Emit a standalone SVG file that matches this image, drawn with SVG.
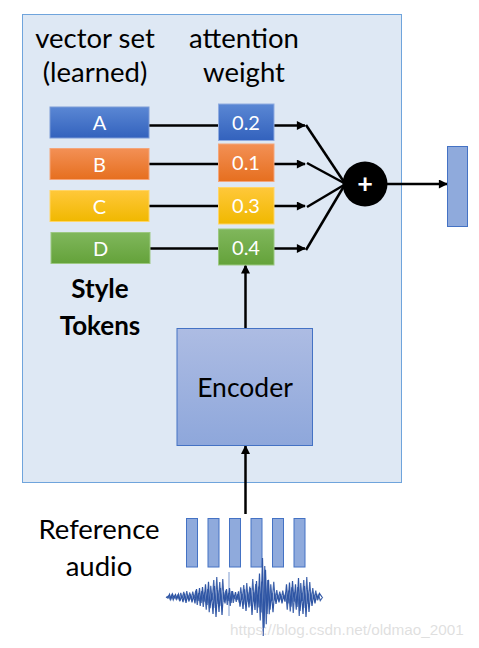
<svg xmlns="http://www.w3.org/2000/svg" width="479" height="648" viewBox="0 0 479 648">
<style>
.t{font-family:Lato,"Liberation Sans",sans-serif;fill:#000;text-anchor:middle}
.big{font-size:27.5px}
.bold{font-size:26px;font-weight:bold}
.w{font-family:Lato,"Liberation Sans",sans-serif;fill:#fff;font-size:20px;text-anchor:middle}
.ln{stroke:#000;stroke-width:2.5;fill:none}
.ar{stroke:#000;stroke-width:2.5;fill:none;marker-end:url(#ah)}
.bar{fill:#8faadc;stroke:#4472c4;stroke-width:1}
</style>
<defs>
<marker id="ah" viewBox="0 0 10 10" refX="9" refY="5" markerWidth="4" markerHeight="3.6" orient="auto" markerUnits="strokeWidth"><path d="M0,0 L10,5 L0,10 z" fill="#000"/></marker>
<linearGradient id="gA" x1="0" y1="0" x2="0" y2="1"><stop offset="0" stop-color="#5a87d4"/><stop offset="1" stop-color="#3362bd"/></linearGradient>
<linearGradient id="gB" x1="0" y1="0" x2="0" y2="1"><stop offset="0" stop-color="#f39055"/><stop offset="1" stop-color="#e66f1f"/></linearGradient>
<linearGradient id="gC" x1="0" y1="0" x2="0" y2="1"><stop offset="0" stop-color="#ffc83a"/><stop offset="1" stop-color="#f0b800"/></linearGradient>
<linearGradient id="gD" x1="0" y1="0" x2="0" y2="1"><stop offset="0" stop-color="#80b75c"/><stop offset="1" stop-color="#64a23a"/></linearGradient>
<linearGradient id="gE" x1="0" y1="0" x2="0" y2="1"><stop offset="0" stop-color="#adbce3"/><stop offset="1" stop-color="#8ea7db"/></linearGradient>
<polyline id="wave" fill="none" stroke="#2f55a4" stroke-width="1.2" points="166,597 168,598.2 169.5,594.3 171,598.8 172.5,594 174,597.9 175.5,594.6 177,598.5 178.5,594.2 180,601.2 181.5,595.8 183,602.1 184.5,593.7 186,603 187.5,594.9 189,601.5 190.5,594.3 192,602.4 193.5,595.5 195,603.5 196.5,589 198,601 199.5,588 201,603 202.5,587 204,601.8 205.5,584.2 207,605 208.5,581.8 210,608.2 211.5,593.8 213,614 214.5,586 216,617 217.5,590 219,612 220.5,588 222,615 223.5,592 225,603.5 226.5,589 228,601 229.5,588 231,603 232.5,591 234,598.8 235.5,592.2 237,600 238.5,591.3 240,606.8 241.5,594.2 243,608.9 244.5,589.3 246,611 247.5,592.1 249,607.5 250.5,588 252,615 253.5,592 255,610 256.5,581 258,607.4 259.5,573.6 261,612.6 262.5,558 264,628 265.5,569.8 267,614 268.5,579.9 270,609.6 271.5,593.4 273,612.3 274.5,593.2 276,604 277.5,594.6 279,602.3 280.5,593.9 282,603.3 283.5,595.3 285,601.6 286.5,584.2 288,603.4 289.5,582.6 291,606.6 292.5,581 294,601.8 295.5,584.2 297,607 298.5,578 300,611 301.5,593 303,614 304.5,586 306,617 307.5,590 309,612 310.5,592.5 312,606 313.5,594.5 315,603.5 316.5,593.8 318,598.6 319.5,593.4 322,597"/>
</defs>
<rect id="panel" x="22.5" y="14.5" width="379" height="468" fill="#dee8f4" stroke="#6fa4dc" stroke-width="1"/>
<g id="labels">
<text class="t big" x="95" y="48">vector set</text>
<text class="t big" x="95" y="82">(learned)</text>
<text class="t big" x="244" y="48">attention</text>
<text class="t big" x="244" y="82">weight</text>
<text class="t bold" x="100" y="298">Style</text>
<text class="t bold" x="100" y="335">Tokens</text>
<text class="t big" x="99" y="539">Reference</text>
<text class="t big" x="99" y="576">audio</text>
</g>
<g id="connectors">
<line class="ln" x1="149" y1="125.5" x2="218" y2="125.5"/>
<line class="ln" x1="149" y1="164" x2="218" y2="164"/>
<line class="ln" x1="149" y1="206" x2="218" y2="206"/>
<line class="ln" x1="150" y1="248.5" x2="218" y2="248.5"/>
<line class="ar" x1="274" y1="125.5" x2="305" y2="125.5"/>
<line class="ar" x1="274" y1="164" x2="305" y2="164"/>
<line class="ar" x1="274" y1="206" x2="305" y2="206"/>
<line class="ar" x1="274" y1="248.5" x2="305" y2="248.5"/>
<line class="ln" x1="306" y1="125" x2="344" y2="182"/>
<line class="ln" x1="307" y1="163" x2="344" y2="183"/>
<line class="ln" x1="307" y1="207" x2="344" y2="185"/>
<line class="ln" x1="306" y1="250" x2="344" y2="186"/>
<line class="ar" x1="387" y1="184" x2="447" y2="184"/>
<line class="ar" x1="245.5" y1="328" x2="245.5" y2="265.5"/>
<line class="ar" x1="245.5" y1="514" x2="245.5" y2="446"/>
</g>
<g id="tokenA"><rect x="50" y="107" width="99" height="31" fill="url(#gA)" stroke="#7c9bd6" stroke-width="1"/><text class="w" x="99.5" y="130">A</text></g>
<g id="tokenB"><rect x="50" y="148.5" width="99" height="31" fill="url(#gB)" stroke="#f4a57a" stroke-width="1"/><text class="w" x="99.5" y="171.5">B</text></g>
<g id="tokenC"><rect x="50" y="190.5" width="99" height="31" fill="url(#gC)" stroke="#ffd567" stroke-width="1"/><text class="w" x="99.5" y="213.5">C</text></g>
<g id="tokenD"><rect x="51" y="232.5" width="99" height="31" fill="url(#gD)" stroke="#9cc882" stroke-width="1"/><text class="w" x="100.5" y="255.5">D</text></g>
<g id="w1"><rect x="218.5" y="104" width="55.5" height="36.5" fill="url(#gA)" stroke="#8fabe0" stroke-width="1"/><text class="w" x="246" y="129.5">0.2</text></g>
<g id="w2"><rect x="218.5" y="144" width="55.5" height="37.5" fill="url(#gB)" stroke="#f4a57a" stroke-width="1"/><text class="w" x="246" y="170">0.1</text></g>
<g id="w3"><rect x="218.5" y="187.5" width="55.5" height="36.5" fill="url(#gC)" stroke="#ffd567" stroke-width="1"/><text class="w" x="246" y="213">0.3</text></g>
<g id="w4"><rect x="218.5" y="229" width="55.5" height="36" fill="url(#gD)" stroke="#9cc882" stroke-width="1"/><text class="w" x="246" y="255">0.4</text></g>
<g id="sum"><circle cx="365" cy="184" r="22.5" fill="#000"/><text x="365" y="193" font-family="Lato,'Liberation Sans',sans-serif" font-size="27" font-weight="bold" fill="#fff" text-anchor="middle">+</text></g>
<g id="output"><rect class="bar" x="447.5" y="146.5" width="20" height="80"/></g>
<g id="encoder"><rect x="177" y="328.5" width="135.5" height="117" fill="url(#gE)" stroke="#4472c4" stroke-width="1"/><text class="t" x="245" y="397" font-size="26.5">Encoder</text></g>
<g id="audio">
<rect class="bar" x="186.5" y="518.5" width="11" height="48.5"/>
<rect class="bar" x="208" y="518.5" width="11" height="48.5"/>
<rect class="bar" x="229.5" y="518.5" width="11" height="48.5"/>
<rect class="bar" x="251" y="518.5" width="11" height="48.5"/>
<rect class="bar" x="272.5" y="518.5" width="11" height="48.5"/>
<rect class="bar" x="294" y="518.5" width="11" height="48.5"/>
<line x1="229" y1="572" x2="229" y2="616" stroke="#7f9bd0" stroke-width="1"/>
<use href="#wave"/>
<use href="#wave" transform="translate(0.75,1194) scale(1,-1)" opacity="0.9"/>
</g>
<text x="230" y="635" font-family="'Liberation Sans',Arial,sans-serif" font-size="15.3" fill="#dadada" fill-opacity="0.85">https://blog.csdn.net/oldmao_2001</text>
</svg>
